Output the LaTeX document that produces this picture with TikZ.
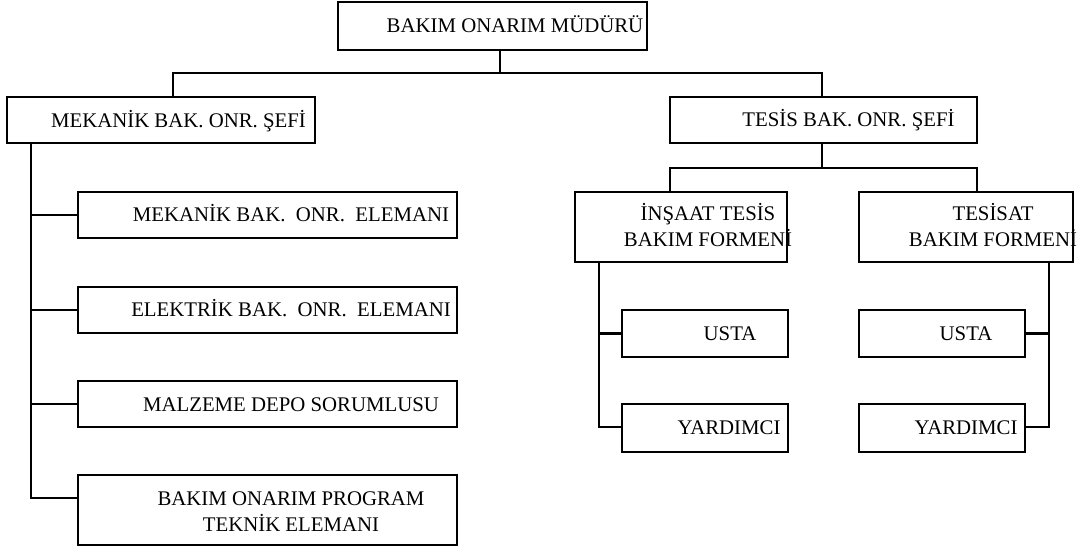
\documentclass[tikz,border=0pt]{standalone}
\usepackage{fontspec}
\setmainfont{Liberation Serif}
\usepackage{tikz}
\usetikzlibrary{positioning}
\usetikzlibrary{calc}
\tikzset{box/.style={draw,line width=2.2pt,inner sep=0pt}}
\tikzset{lbl/.style={font=\fontsize{20.8}{25.5}\selectfont,inner sep=0pt,align=center,anchor=base}}
\tikzset{link/.style={line width=2.2pt}}

\begin{document}
\begin{tikzpicture}[x=1pt,y=-1pt]
            \useasboundingbox (0,0) rectangle (1077,548);
            \node [box,minimum width=309pt,minimum height=48pt] (mud) at (492.5,26) {};
            \node [box,minimum width=308pt,minimum height=46pt] (mek) at (161,120) {};
            \node [box,minimum width=307pt,minimum height=46pt] (tes) at (823.5,120) {};
            \node [box,minimum width=379pt,minimum height=46pt] (mekel) at (267.5,215) {};
            \node [box,minimum width=379pt,minimum height=46pt] (elk) at (267.5,310) {};
            \node [box,minimum width=379pt,minimum height=46pt] (depo) at (267.5,404) {};
            \node [box,minimum width=379pt,minimum height=70pt] (prog) at (267.5,510) {};
            \node [box,minimum width=212pt,minimum height=70pt] (ins) at (681,227) {};
            \node [box,minimum width=214pt,minimum height=70pt] (tst) at (966,227) {};
            \node [box,minimum width=166pt,minimum height=47pt] (ustai) at (705,333.5) {};
            \node [box,minimum width=166pt,minimum height=48pt] (yardi) at (705,428) {};
            \node [box,minimum width=166pt,minimum height=47pt] (ustaii) at (942,333.5) {};
            \node [box,minimum width=166pt,minimum height=48pt] (yardii) at (942,428) {};
            \node [lbl] (tmud) at (515,33) {BAKIM ONARIM MÜDÜRÜ};
            \node [lbl] (tmek) at (178.5,128) {MEKANİK BAK. ONR. ŞEFİ};
            \node [lbl] (ttes) at (848.5,127) {TESİS BAK. ONR. ŞEFİ};
            \node [lbl] (tmekel) at (291,222) {MEKANİK BAK.~ ONR.~ ELEMANI};
            \node [lbl] (telk) at (291,316.5) {ELEKTRİK BAK.~ ONR.~ ELEMANI};
            \node [lbl] (tdepo) at (291,411.5) {MALZEME DEPO SORUMLUSU};
            \node [lbl] (tprog) at (291,531) {BAKIM ONARIM PROGRAM\\TEKNİK ELEMANI};
            \node [lbl] (tins) at (708,246.5) {İNŞAAT TESİS\\BAKIM FORMENİ};
            \node [lbl] (ttst) at (993,246.5) {TESİSAT\\BAKIM FORMENİ};
            \node [lbl] (tustai) at (730,340) {USTA};
            \node [lbl] (tyardi) at (729,434) {YARDIMCI};
            \node [lbl] (tustaii) at (966,340) {USTA};
            \node [lbl] (tyardii) at (966,434) {YARDIMCI};
            \coordinate (j0) at (500,73);
            \coordinate (jl) at (173,73);
            \coordinate (jr) at (822,73);
            \coordinate (ml) at (31,498);
            \coordinate (jt) at (822,168);
            \coordinate (ja) at (670,168);
            \coordinate (jb) at (977,168);
            \coordinate (ia) at (599,427);
            \coordinate (ib) at (1049,427);
            \draw[link] (mud.south -| j0) -- (j0);
            \draw[link] (mek.north -| jl) -- (jl) -- (jr) -- (tes.north -| jr);
            \draw[link] (mek.south -| ml) -- (ml) -- (prog.west |- ml);
            \draw[link] (mekel.west) -- (mekel.west -| ml);
            \draw[link] (elk.west) -- (elk.west -| ml);
            \draw[link] (depo.west) -- (depo.west -| ml);
            \draw[link] (tes.south -| jt) -- (jt);
            \draw[link] (ins.north -| ja) -- (ja) -- (jb) -- (tst.north -| jb);
            \draw[link] (ins.south -| ia) -- (ia) -- (yardi.west |- ia);
            \draw[link] (ustai.west) -- (ustai.west -| ia);
            \draw[link] (tst.south -| ib) -- (ib) -- (yardii.east |- ib);
            \draw[link] (ustaii.east) -- (ustaii.east -| ib);
        \end{tikzpicture}
\end{document}
